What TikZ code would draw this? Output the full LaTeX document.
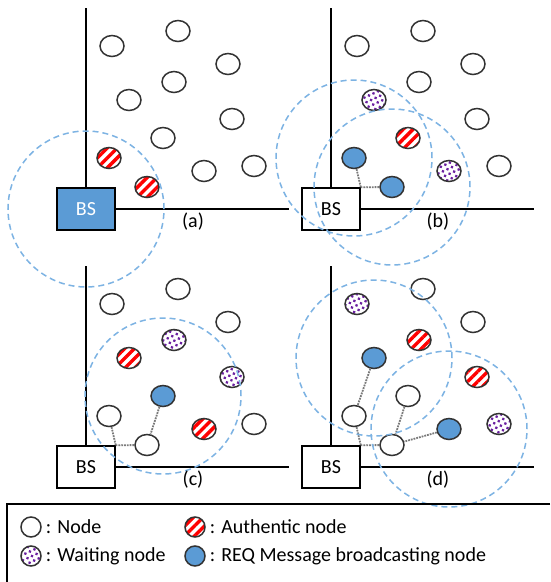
\documentclass[tikz,border=0pt]{standalone}
\usepackage{fontspec}
\setmainfont{Carlito}
\usepackage{xcolor}
\usetikzlibrary{shapes.geometric,patterns.meta}

\definecolor{bsblue}{HTML}{5B9BD5}
\definecolor{reachblue}{HTML}{7DB3E3}
\definecolor{waitpurple}{HTML}{6A1FA0}
\definecolor{linkgray}{HTML}{7A7A7A}
\definecolor{rimgray}{HTML}{333333}

\begin{document}
\begin{tikzpicture}[x=1pt,y=-1pt,
	font=\fontsize{20}{24}\selectfont,
	sensor/.style={ellipse,draw=rimgray,line width=1.5pt,minimum width=24pt,minimum height=21pt,inner sep=0pt},
	plain/.style={sensor,fill=white},
	authentic/.style={sensor,pattern={Lines[angle=45,distance=7pt,line width=3.4pt]},pattern color=red},
	waiting/.style={sensor,pattern={Dots[radius=1.6pt,distance=5pt,angle=25]},pattern color=waitpurple},
	broadcast/.style={sensor,fill=bsblue},
	keysize/.style={minimum width=20pt,minimum height=20pt},
	bsbox/.style={draw,line width=1.5pt,minimum width=58pt,minimum height=42pt,inner sep=0pt,fill=white},
	axis/.style={line width=1.5pt},
	reach/.style={draw=reachblue,line width=1.5pt,dash pattern=on 6pt off 4pt},
	link/.style={draw=linkgray,line width=1.8pt,densely dotted}]

\useasboundingbox (0,0) rectangle (550,582);

\def \axes {

	\coordinate (top) at (86,8);
	\coordinate (end) at (289,209);
	\draw[axis] (bs.north) -- (top);
	\draw[axis] (bs.east) -- (end);

}

% ------------------------------------------------------

\begin{scope}[name prefix=a-]

\node[bsbox,fill=bsblue,text=white] (bs) at (86,209) {BS};

\axes

\foreach \x/\y/\t [count=\i] in {112/46/plain,178/31/plain,228/64/plain,174/82/plain,129/100/plain,
	232/119/plain,163/138/plain,204/171/plain,254/166/plain,109/158/authentic,147/187/authentic}
	\node[\t] (n\i) at (\x,\y) {};

\draw[reach] (bs.center) circle (78pt);

\node (lab) at (193,222) {(a)};

\end{scope}

\begin{scope}[shift={(245,0)},name prefix=b-]

\node[bsbox] (bs) at (86,209) {BS};

\axes

\foreach \x/\y/\t [count=\i] in {112/46/plain,178/31/plain,228/64/plain,174/82/plain,129/100/waiting,
	232/119/plain,163/138/authentic,204/171/waiting,254/166/plain,109/158/broadcast,147/187/broadcast}
	\node[\t] (n\i) at (\x,\y) {};

\draw[link] (n10) -- (bs.north east);
\draw[link] (n11) -- (bs.north east);

\draw[reach] (n10.center) circle (78pt);
\draw[reach] (n11.center) circle (78pt);

\node (lab) at (193,222) {(b)};

\end{scope}

\begin{scope}[shift={(0,258)},name prefix=c-]

\node[bsbox] (bs) at (86,209) {BS};

\axes

\foreach \x/\y/\t [count=\i] in {112/46/plain,178/31/plain,228/64/plain,174/82/waiting,129/100/authentic,
	232/119/waiting,163/138/broadcast,204/171/authentic,254/166/plain,109/158/plain,147/187/plain}
	\node[\t] (n\i) at (\x,\y) {};

\draw[link] (n10) -- (bs.north east);
\draw[link] (n11) -- (bs.north east);
\draw[link] (n7) -- (n11);

\draw[reach] (n7.center) circle (78pt);

\node (lab) at (193,222) {(c)};

\end{scope}

\begin{scope}[shift={(245,258)},name prefix=d-]

\node[bsbox] (bs) at (86,209) {BS};

\axes

\foreach \x/\y/\t [count=\i] in {112/46/waiting,178/31/plain,228/64/plain,174/82/authentic,129/100/broadcast,
	232/119/authentic,163/138/plain,204/171/broadcast,254/166/waiting,109/158/plain,147/187/plain}
	\node[\t] (n\i) at (\x,\y) {};

\draw[link] (n10) -- (bs.north east);
\draw[link] (n11) -- (bs.north east);
\draw[link] (n5) -- (n10);
\draw[link] (n7) -- (n11);
\draw[link] (n8) -- (n11);

\draw[reach] (n5.center) circle (78pt);
\draw[reach] (n8.center) circle (78pt);

\node (lab) at (193,222) {(d)};

\end{scope}

% ------------------------------------------------------

% legend
\draw[line width=1.2pt] (550,504) -- (7,504) -- (7,582);

\node[plain,keysize] (k1) at (31,527) {};
\node[anchor=west,inner sep=4pt] (t1) at (k1.east) {: Node};

\node[authentic,keysize] (k2) at (195,527) {};
\node[anchor=west,inner sep=4pt] (t2) at (k2.east) {: Authentic node};

\node[waiting,keysize] (k3) at (31,556) {};
\node[anchor=west,inner sep=4pt] (t3) at (k3.east) {: Waiting node};

\node[broadcast,keysize] (k4) at (195,556) {};
\node[anchor=west,inner sep=4pt] (t4) at (k4.east) {: REQ Message broadcasting node};

\end{tikzpicture}
\end{document}
